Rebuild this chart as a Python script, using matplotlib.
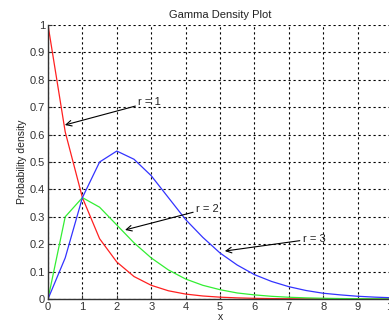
import matplotlib
matplotlib.use("Agg")
import matplotlib.pyplot as plt

x_vals = [0, 0.5, 1, 1.5, 2, 2.5, 3, 3.5, 4, 4.5, 5, 5.5, 6, 6.5, 7, 7.5, 8, 8.5, 9, 9.5, 10]
r1_vals = [1.0, 0.61, 0.37, 0.22, 0.135, 0.082, 0.05, 0.03, 0.018, 0.011, 0.0067, 0.0041, 0.0025,
           0.0015, 0.0009, 0.00055, 0.00034, 0.0002, 0.00012, 0.00008, 0.00005]
r2_vals = [0.0, 0.30, 0.37, 0.335, 0.27, 0.205, 0.15, 0.106, 0.073, 0.05, 0.034, 0.022, 0.015,
           0.0098, 0.0064, 0.0041, 0.0027, 0.0017, 0.0011, 0.0007, 0.00045]
r3_vals = [0.0, 0.15, 0.37, 0.50, 0.54, 0.51, 0.45, 0.37, 0.29, 0.225, 0.168, 0.124, 0.089,
           0.064, 0.045, 0.031, 0.021, 0.015, 0.010, 0.0068, 0.0045]
x_ticks = [0, 1, 2, 3, 4, 5, 6, 7, 8, 9, 10]
y_ticks = [0, 0.1, 0.2, 0.3, 0.4, 0.5, 0.6, 0.7, 0.8, 0.9, 1]
y_tick_labels = ["0", "0.1", "0.2", "0.3", "0.4", "0.5", "0.6", "0.7", "0.8", "0.9", "1"]
labels = ["r = 1", "r = 2", "r = 3"]
arrow_heads = [(0.49, 0.635), (2.24, 0.252), (5.14, 0.175)]
text_pos = [(2.62, 0.718), (4.3, 0.33), (7.4, 0.22)]

plt.rcParams['font.family'] = ['Liberation Sans', 'DejaVu Sans']

fig = plt.figure(figsize=(3.89, 3.24), dpi=100)
ax = fig.add_axes([48/389, 25/324, 344/389, 274/324])

ax.plot(x_vals, r1_vals, color='#ff2020', lw=0.9)
ax.plot(x_vals, r2_vals, color='#33ee33', lw=0.9)
ax.plot(x_vals, r3_vals, color='#3333ff', lw=0.9)

ax.set_xlim(0, 10)
ax.set_ylim(0, 1)
ax.set_xticks(x_ticks)
ax.set_yticks(y_ticks)
ax.set_yticklabels(y_tick_labels)
ax.grid(True, color='black', linestyle=(0, (2, 2.5)), lw=0.8)
ax.tick_params(direction='in', length=3, labelsize=8, colors='#333333', pad=2)
for s in ['top', 'right']:
    ax.spines[s].set_visible(False)
for s in ['left', 'bottom']:
    ax.spines[s].set_color('#333333')
    ax.spines[s].set_linewidth(1.0)

ax.set_title("Gamma Density Plot", fontsize=8, color='#222222', pad=5)
ax.set_ylabel("Probability density", fontsize=7.5, color='#222222', labelpad=2)
ax.set_xlabel("x", fontsize=7.5, color='#222222', labelpad=0)

for lab, head, tp in zip(labels, arrow_heads, text_pos):
    ax.annotate(lab, xy=head, xytext=tp, fontsize=8, color='#222222',
                va='center', ha='left',
                arrowprops=dict(arrowstyle='->', color='black', lw=0.8,
                                shrinkA=0, shrinkB=0, mutation_scale=10))

fig.savefig("out.png", dpi=100)
